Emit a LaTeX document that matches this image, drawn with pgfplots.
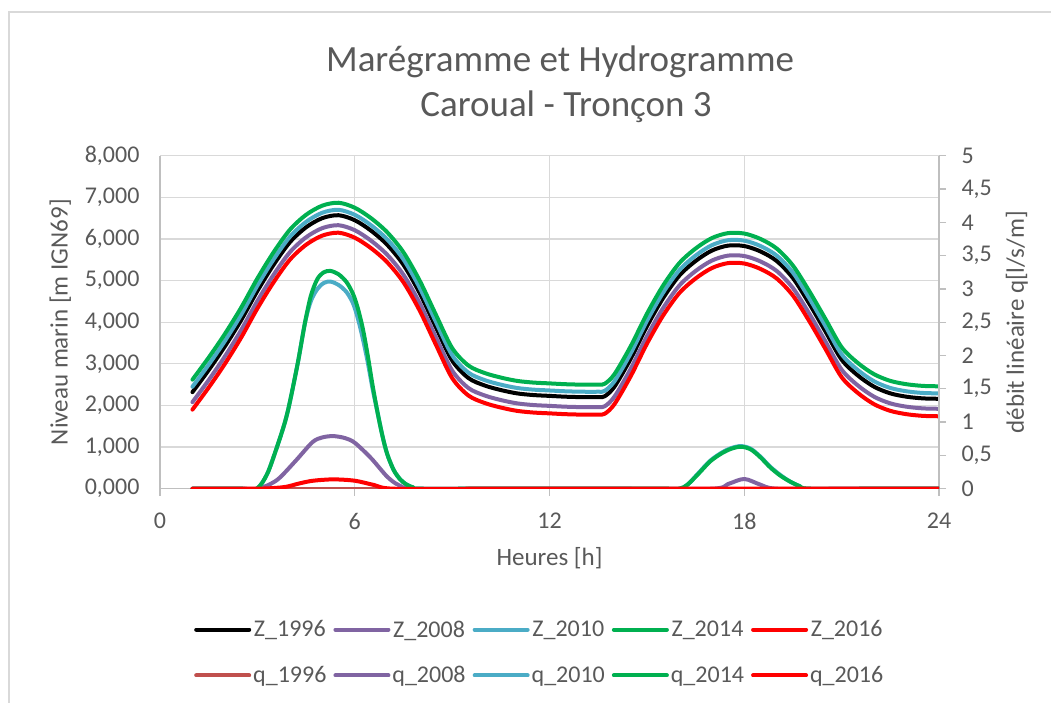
\documentclass[border=0pt]{standalone}
\usepackage{fontspec}
\setmainfont{Carlito}
\usepackage{pgfplots}
\usepackage{pgfplotstable}
\pgfplotsset{compat=1.18}
\definecolor{txt}{HTML}{595959}
\definecolor{gridc}{HTML}{D9D9D9}
\definecolor{axc}{HTML}{BFBFBF}
\definecolor{cpurple}{HTML}{8064A2}
\definecolor{cblue}{HTML}{4BACC6}
\definecolor{cgreen}{HTML}{00B050}
\definecolor{cred}{HTML}{FF0000}
\definecolor{cbrown}{HTML}{C0504D}

\pgfplotstableread{
x    za   zb   zc   zd   ze
1.0  2.32 2.08 2.45 2.62 1.90
1.5  2.85 2.61 2.98 3.15 2.43
2.0  3.42 3.18 3.55 3.72 3.00
2.5  4.05 3.81 4.18 4.35 3.63
3.0  4.75 4.51 4.88 5.05 4.33
3.5  5.38 5.14 5.51 5.68 4.96
4.0  5.92 5.68 6.05 6.22 5.50
4.5  6.28 6.04 6.41 6.58 5.86
5.0  6.50 6.26 6.63 6.80 6.08
5.5  6.57 6.33 6.70 6.87 6.15
6.0  6.45 6.21 6.58 6.75 6.03
6.5  6.20 5.96 6.33 6.50 5.78
7.0  5.86 5.62 5.99 6.16 5.44
7.5  5.38 5.14 5.51 5.68 4.96
8.0  4.70 4.46 4.83 5.00 4.28
8.5  3.88 3.64 4.01 4.18 3.46
9.0  3.08 2.84 3.21 3.38 2.66
9.5  2.66 2.42 2.79 2.96 2.24
10.0 2.48 2.24 2.61 2.78 2.06
10.5 2.37 2.13 2.50 2.67 1.95
11.0 2.29 2.05 2.42 2.59 1.87
11.5 2.25 2.01 2.38 2.55 1.83
12.0 2.23 1.99 2.36 2.53 1.81
12.5 2.21 1.97 2.34 2.51 1.79
13.0 2.20 1.96 2.33 2.50 1.78
13.5 2.20 1.96 2.33 2.50 1.78
13.7 2.22 1.98 2.35 2.52 1.80
14.0 2.45 2.21 2.58 2.75 2.03
14.5 3.12 2.88 3.25 3.42 2.70
15.0 3.90 3.66 4.03 4.20 3.48
15.5 4.58 4.34 4.71 4.88 4.16
16.0 5.12 4.88 5.25 5.42 4.70
16.5 5.47 5.23 5.60 5.77 5.05
17.0 5.72 5.48 5.85 6.02 5.30
17.5 5.84 5.60 5.97 6.14 5.42
18.0 5.83 5.59 5.96 6.13 5.41
18.5 5.70 5.46 5.83 6.00 5.28
19.0 5.47 5.23 5.60 5.77 5.05
19.5 5.06 4.82 5.19 5.36 4.64
20.0 4.45 4.21 4.58 4.75 4.03
20.5 3.78 3.54 3.91 4.08 3.36
21.0 3.10 2.86 3.23 3.40 2.68
21.5 2.72 2.48 2.85 3.02 2.30
22.0 2.45 2.21 2.58 2.75 2.03
22.5 2.29 2.05 2.42 2.59 1.87
23.0 2.21 1.97 2.34 2.51 1.79
23.5 2.17 1.93 2.30 2.47 1.75
24.0 2.16 1.92 2.29 2.46 1.74
}\Ztable

\pgfplotstableread{
x y
1 0
12 0
24 0
}\qa

\pgfplotstableread{
x y
1 0
2.5 0
3.0 0
3.4 0.07
3.7 0.17
4.2 0.43
4.7 0.70
5.0 0.77
5.34 0.79
5.7 0.76
6.0 0.69
6.5 0.46
7.0 0.18
7.35 0.055
7.8 0
10 0
14 0
17.0 0
17.5 0.07
18.0 0.146
18.5 0.06
19.0 0
21 0
24 0
}\qb

\pgfplotstableread{
x y
1 0
2.5 0
2.98 0
3.3 0.22
3.6 0.62
3.85 1.0
4.0 1.3
4.25 1.9
4.47 2.5
4.65 2.82
4.85 3.0
5.05 3.09
5.25 3.11
5.5 3.06
5.75 2.95
5.95 2.78
6.1 2.55
6.25 2.25
6.4 1.90
6.55 1.50
6.7 1.15
6.85 0.80
7.0 0.52
7.2 0.28
7.4 0.14
7.6 0.06
7.8 0.02
8.0 0
10 0
13 0
15.5 0
16.0 0
16.25 0.06
16.6 0.24
16.95 0.42
17.3 0.54
17.6 0.61
17.9 0.64
18.2 0.60
18.5 0.48
18.8 0.33
19.1 0.21
19.4 0.11
19.7 0.04
20.0 0
22 0
24 0
}\qc

\pgfplotstableread{
x y
1 0
2.5 0
2.98 0
3.3 0.22
3.6 0.62
3.85 1.0
4.0 1.3
4.25 1.9
4.47 2.5
4.65 2.9
4.85 3.15
5.05 3.25
5.25 3.27
5.5 3.22
5.75 3.10
5.95 2.92
6.1 2.70
6.25 2.40
6.4 2.00
6.55 1.55
6.7 1.15
6.85 0.80
7.0 0.52
7.2 0.28
7.4 0.14
7.6 0.06
7.8 0.02
8.0 0
10 0
13 0
15.5 0
16.0 0
16.25 0.06
16.6 0.23
16.95 0.41
17.3 0.53
17.6 0.60
17.9 0.63
18.2 0.59
18.5 0.47
18.8 0.32
19.1 0.2
19.4 0.11
19.7 0.04
20.0 0
22 0
24 0
}\qd

\pgfplotstableread{
x y
1 0
2.5 0
3.0 0
3.5 0.01
3.9 0.03
4.3 0.08
4.72 0.12
5.34 0.14
6.0 0.12
6.6 0.055
7.2 0
10 0
14 0
18 0
24 0
}\qe

\pgfplotsset{
  /pgf/number format/assume math mode=true,
  common/.style={
    at={(160pt,213.3pt)}, anchor=south west,
    scale only axis, width=779pt, height=333pt,
    xmin=0, xmax=24,
    tick align=outside, major tick length=7pt,
    tick label style={text=txt, font=\fontsize{24}{28}\selectfont},
    label style={text=txt, font=\fontsize{25}{30}\selectfont},
    axis line style={axc, line width=1.3pt},
  },
  zl/.style={line width=4pt, line cap=round, line join=round, smooth, tension=0.5},
  ql/.style={line width=4pt, line cap=round, line join=round, smooth, tension=0.5},
}

\begin{document}
\begin{tikzpicture}[x=1pt,y=1pt]
\useasboundingbox (0,0) rectangle (1051,702);
\draw[gridc, line width=1.3pt] (9,-20) -- (9,690) -- (1080,690);
\node[text=txt, font=\fontsize{37}{44}\selectfont, anchor=base] at (560,630) {Marégramme et Hydrogramme};
\node[text=txt, font=\fontsize{37}{44}\selectfont, anchor=base] at (566,585) {Caroual - Tronçon 3};

\begin{axis}[common,
  ymin=0, ymax=8, ytick={0,1,...,8},
  axis x line*=bottom, axis y line*=left,
  xtick={0,6,12,18,24},
  xmajorgrids, ymajorgrids,
  grid style={gridc, line width=1.3pt},
  xtick style={axc, line width=1.3pt},
  ytick style={draw=none},
  xticklabel style={yshift=-14pt},
  yticklabel style={xshift=-10pt, /pgf/number format/.cd, fixed, fixed zerofill, precision=3, use comma},
  xlabel={Heures [h]},
  xlabel style={at={(axis description cs:0.5,-0.208)}, anchor=center},
  ylabel={Niveau marin [m IGN69]},
  ylabel style={at={(axis description cs:-0.128,0.5)}, anchor=center},
]
\addplot[zl, black] table[x=x, y=za] {\Ztable};
\addplot[zl, cpurple] table[x=x, y=zb] {\Ztable};
\addplot[zl, cblue] table[x=x, y=zc] {\Ztable};
\addplot[zl, cgreen] table[x=x, y=zd] {\Ztable};
\addplot[zl, cred] table[x=x, y=ze] {\Ztable};
\end{axis}

\begin{axis}[common,
  ymin=0, ymax=5, ytick={0,0.5,...,5},
  axis y line*=right, axis x line=none,
  ytick style={axc, line width=1.3pt},
  yticklabel style={xshift=12pt, /pgf/number format/.cd, use comma},
  ylabel={débit linéaire q[l/s/m]},
  ylabel style={at={(axis description cs:1.0998,0.5)}, anchor=center},
  legend columns=5,
  legend style={at={(0.4875,-0.492)}, anchor=center, draw=none, fill=none,
    font=\fontsize{24}{28}\selectfont, text=txt,
    column sep=0pt, row sep=24pt,
    nodes={inner sep=2pt},
    /tikz/every even column/.append style={column sep=5pt}},
  legend image code/.code={\draw[#1, line width=4pt, line cap=round] (0pt,0pt) -- (53pt,0pt);},
]
\addlegendimage{black}
\addlegendentry{Z\_1996}
\addlegendimage{cpurple}
\addlegendentry{Z\_2008}
\addlegendimage{cblue}
\addlegendentry{Z\_2010}
\addlegendimage{cgreen}
\addlegendentry{Z\_2014}
\addlegendimage{cred}
\addlegendentry{Z\_2016}
\addplot[ql, cbrown] table[x=x, y=y] {\qa};
\addlegendentry{q\_1996}
\addplot[ql, cpurple] table[x=x, y=y] {\qb};
\addlegendentry{q\_2008}
\addplot[ql, cblue] table[x=x, y=y] {\qc};
\addlegendentry{q\_2010}
\addplot[ql, cgreen] table[x=x, y=y] {\qd};
\addlegendentry{q\_2014}
\addplot[ql, cred] table[x=x, y=y] {\qe};
\addlegendentry{q\_2016}
\end{axis}
\end{tikzpicture}
\end{document}
